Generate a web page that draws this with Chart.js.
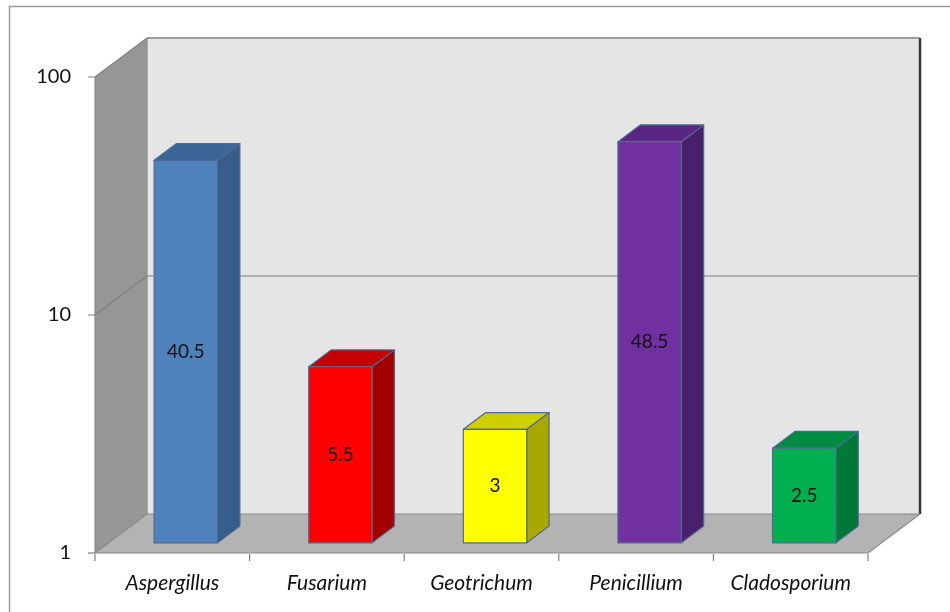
<!DOCTYPE html>
<html>
<head>
<meta charset="utf-8">
<script src="https://cdn.jsdelivr.net/npm/chart.js@4.4.1/dist/chart.umd.min.js"></script>
<style>
  html, body { margin: 0; padding: 0; background: #fff; }
  #wrap { width: 950px; height: 612px; }
</style>
</head>
<body>
<div id="wrap"><canvas id="fungiChart" width="950" height="612"></canvas></div>
<script>
// data
var categories = ['Aspergillus', 'Fusarium', 'Geotrichum', 'Penicillium', 'Cladosporium'];
var values = [40.5, 5.5, 3, 48.5, 2.5];
var frontColors = ['#4F81BD', '#FF0000', '#FFFF00', '#7030A0', '#00B050'];
var sideColors = ['#385D8A', '#A30000', '#A8A800', '#4A1F6C', '#007838'];
var topColors = ['#3D6698', '#C40000', '#CFCF00', '#5A2684', '#008A42'];
var yTicks = [1, 10, 100];

// depth of the 3D box (back wall offset) and where bars sit inside it
var depthX = 52, depthY = 39;
var barFront = 0.26, barBack = 0.69;

/**
 *  Draws the walls, floor, gridlines and tick marks of the 3D box.
 */
var box3d = {
    id: 'box3d',
    beforeDraw: function(chart) {
        var ctx = chart.ctx;
        ctx.save();
        ctx.fillStyle = '#fff';
        ctx.fillRect(0, 0, chart.width, chart.height);
        ctx.strokeStyle = '#9A9A9A';
        ctx.lineWidth = 1.5;
        ctx.strokeRect(9.5, 6.5, 980, 650);
        ctx.restore();
    },
    beforeDatasetsDraw: function(chart) {
        var ctx = chart.ctx;
        var a = chart.chartArea;
        var yScale = chart.scales.y;
        var xScale = chart.scales.x;
        var L = a.left, R = a.right, T = a.top, B = a.bottom;
        ctx.save();

        // back wall
        ctx.fillStyle = '#E5E5E5';
        ctx.fillRect(L + depthX, T - depthY, R - L, B - T);
        ctx.strokeStyle = '#A6A6A6';
        ctx.lineWidth = 1.5;
        ctx.beginPath();
        ctx.moveTo(L + depthX, T - depthY);
        ctx.lineTo(R + depthX, T - depthY);
        ctx.stroke();
        ctx.strokeStyle = '#3A3A3A';
        ctx.lineWidth = 2.5;
        ctx.beginPath();
        ctx.moveTo(R + depthX, T - depthY);
        ctx.lineTo(R + depthX, B - depthY);
        ctx.stroke();

        // side wall
        ctx.fillStyle = '#969696';
        ctx.beginPath();
        ctx.moveTo(L, B);
        ctx.lineTo(L, T);
        ctx.lineTo(L + depthX, T - depthY);
        ctx.lineTo(L + depthX, B - depthY);
        ctx.closePath();
        ctx.fill();

        // floor
        ctx.fillStyle = '#B3B3B3';
        ctx.beginPath();
        ctx.moveTo(L, B);
        ctx.lineTo(R, B);
        ctx.lineTo(R + depthX, B - depthY);
        ctx.lineTo(L + depthX, B - depthY);
        ctx.closePath();
        ctx.fill();

        // edges
        ctx.strokeStyle = '#8A8A8A';
        ctx.lineWidth = 1.2;
        ctx.beginPath();
        ctx.moveTo(L, T);
        ctx.lineTo(L, B);
        ctx.lineTo(R, B);
        ctx.lineTo(R + depthX, B - depthY);
        ctx.moveTo(L, B);
        ctx.lineTo(L + depthX, B - depthY);
        ctx.lineTo(R + depthX, B - depthY);
        ctx.moveTo(L + depthX, T - depthY);
        ctx.lineTo(L + depthX, B - depthY);
        ctx.stroke();

        // gridlines on side and back wall
        ctx.strokeStyle = '#7F7F7F';
        ctx.lineWidth = 1.2;
        yTicks.forEach(function(v) {
            var y = yScale.getPixelForValue(v);
            ctx.beginPath();
            ctx.moveTo(L - 7, y);
            ctx.lineTo(L, y);
            if (v !== yTicks[0]) {
                ctx.lineTo(L + depthX, y - depthY);
                ctx.lineTo(R + depthX, y - depthY);
            }
            ctx.stroke();
        });

        // category tick marks
        var half = (R - L) / categories.length / 2;
        ctx.beginPath();
        for (var i = 0; i <= categories.length; i++) {
            var x = (i < categories.length) ? xScale.getPixelForValue(i) - half : xScale.getPixelForValue(i - 1) + half;
            ctx.moveTo(x, B + 1);
            ctx.lineTo(x, B + 8);
        }
        ctx.stroke();
        ctx.restore();
    },
    afterDatasetsDraw: function(chart) {
        var ctx = chart.ctx;
        var meta = chart.getDatasetMeta(0);
        var fx = depthX * barFront, fy = depthY * barFront;
        var dx = depthX * (barBack - barFront), dy = depthY * (barBack - barFront);
        ctx.save();
        ctx.lineWidth = 1.2;
        ctx.strokeStyle = '#4E6B93';
        ctx.lineJoin = 'round';
        meta.data.forEach(function(el, i) {
            var p = el.getProps(['x', 'y', 'base', 'width'], true);
            var x0 = p.x - p.width / 2 + fx, x1 = p.x + p.width / 2 + fx;
            var yt = p.y - fy, yb = p.base - fy;

            // side face
            ctx.fillStyle = sideColors[i];
            ctx.beginPath();
            ctx.moveTo(x1, yt);
            ctx.lineTo(x1 + dx, yt - dy);
            ctx.lineTo(x1 + dx, yb - dy);
            ctx.lineTo(x1, yb);
            ctx.closePath();
            ctx.fill();
            ctx.stroke();

            // top face
            ctx.fillStyle = topColors[i];
            ctx.beginPath();
            ctx.moveTo(x0, yt);
            ctx.lineTo(x0 + dx, yt - dy);
            ctx.lineTo(x1 + dx, yt - dy);
            ctx.lineTo(x1, yt);
            ctx.closePath();
            ctx.fill();
            ctx.stroke();

            // front face
            ctx.fillStyle = frontColors[i];
            ctx.fillRect(x0, yt, x1 - x0, yb - yt);
            ctx.strokeRect(x0, yt, x1 - x0, yb - yt);

            // value label
            ctx.fillStyle = '#111';
            ctx.font = '19px Lato';
            ctx.textAlign = 'center';
            ctx.textBaseline = 'middle';
            ctx.fillText(String(values[i]), (x0 + x1) / 2, (yt + yb) / 2);
        });
        ctx.restore();
    }
};

new Chart(document.getElementById('fungiChart').getContext('2d'), {
    type: 'bar',
    data: {
        labels: categories,
        datasets: [{
            label: 'Fungi',
            data: values,
            backgroundColor: 'rgba(0,0,0,0)',
            borderWidth: 0,
            barPercentage: 0.41,
            categoryPercentage: 1
        }]
    },
    options: {
        responsive: false,
        animation: false,
        layout: { padding: { left: 0, top: 77, right: 82, bottom: 0 } },
        plugins: {
            legend: { display: false },
            tooltip: { enabled: false }
        },
        scales: {
            x: {
                grid: { display: false, drawTicks: false },
                border: { display: false },
                ticks: {
                    color: '#111',
                    padding: 18,
                    font: { family: 'Lato', size: 21, style: 'italic' }
                },
                afterFit: function(scale) { scale.height = 59; }
            },
            y: {
                type: 'logarithmic',
                min: 1,
                max: 100,
                grid: { display: false, drawTicks: false },
                border: { display: false },
                afterBuildTicks: function(scale) {
                    scale.ticks = yTicks.map(function(v) { return { value: v, major: true }; });
                },
                ticks: {
                    color: '#111',
                    padding: 24,
                    font: { family: 'Lato', size: 20 },
                    callback: function(v) { return String(v); }
                },
                afterFit: function(scale) { scale.width = 95; }
            }
        }
    },
    plugins: [box3d]
});
</script>
</body>
</html>
